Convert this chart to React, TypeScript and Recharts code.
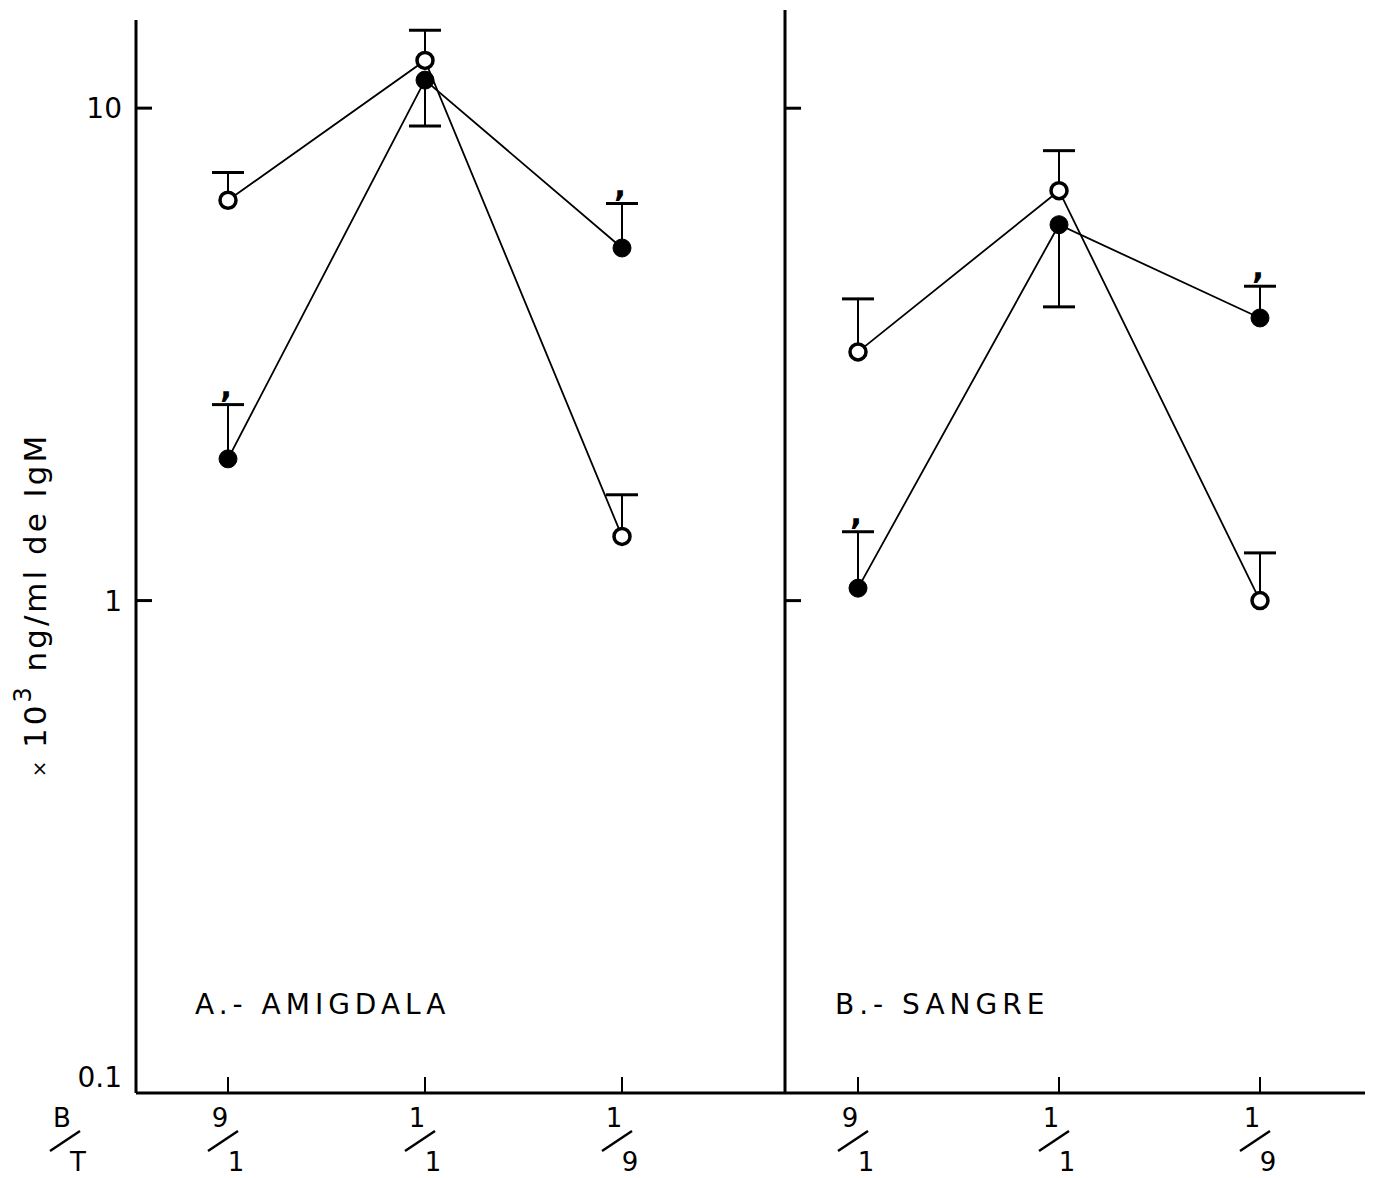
import React from 'react';
import { LineChart, Line, XAxis, YAxis, ErrorBar, Customized } from 'recharts';

const ratios = ['9/1', '1/1', '1/9'];
const yTicks = [0.1, 1, 10];

// A.- Amigdala
const amigdalaOpen = [6.5, 12.5, 1.35];
const amigdalaOpenCap = [7.4, 14.4, 1.64];
const amigdalaFilled = [1.94, 11.4, 5.2];
const amigdalaFilledCap = [2.5, 9.2, 6.4];
const amigdalaMarks = [true, false, true];

// B.- Sangre
const sangreOpen = [3.2, 6.8, 1.0];
const sangreOpenCap = [4.1, 8.2, 1.25];
const sangreFilled = [1.06, 5.8, 3.75];
const sangreFilledCap = [1.38, 3.95, 4.35];
const sangreMarks = [true, false, true];

const FONT = '"DejaVu Sans", "Liberation Sans", sans-serif';

const errOf = (v: number, cap: number) => (cap > v ? [0, cap - v] : [v - cap, 0]);

function buildRows(open: number[], openCap: number[], filled: number[], filledCap: number[], marks: boolean[]) {
  return ratios.map((r, i) => ({
    ratio: r,
    open: open[i],
    openCap: openCap[i],
    openErr: errOf(open[i], openCap[i]),
    filled: filled[i],
    filledCap: filledCap[i],
    filledErr: errOf(filled[i], filledCap[i]),
    mark: marks[i],
  }));
}

const amigdalaRows = buildRows(amigdalaOpen, amigdalaOpenCap, amigdalaFilled, amigdalaFilledCap, amigdalaMarks);
const sangreRows = buildRows(sangreOpen, sangreOpenCap, sangreFilled, sangreFilledCap, sangreMarks);

function capDot(withMark: boolean) {
  return (p: any) => {
    const { cx, cy, payload, index } = p;
    if (cx == null || cy == null) return <g key={index} />;
    return (
      <g key={index}>
        <line x1={cx - 16} y1={cy} x2={cx + 16} y2={cy} stroke="#000" strokeWidth={3} />
        {withMark && payload.mark && (
          <text x={cx - 2} y={cy - 8} fontSize={32} fontWeight="bold" fontFamily={FONT} textAnchor="middle">
            ,
          </text>
        )}
      </g>
    );
  };
}

function Fraction({ x, y, num, den }: { x: number; y: number; num: string; den: string }) {
  return (
    <g fontFamily={FONT} fontSize={26} fill="#000">
      <text x={x - 8} y={y + 34} textAnchor="middle">{num}</text>
      <line x1={x - 20} y1={y + 58} x2={x + 10} y2={y + 38} stroke="#000" strokeWidth={2.5} />
      <text x={x + 8} y={y + 78} textAnchor="middle">{den}</text>
    </g>
  );
}

function RatioTick(p: any) {
  const { x, y, payload } = p;
  const [num, den] = String(payload.value).split('/');
  return (
    <g>
      <line x1={x} y1={y - 16} x2={x} y2={y} stroke="#000" strokeWidth={2} />
      <Fraction x={x} y={y} num={num} den={den} />
    </g>
  );
}

function logTick(showLabel: boolean) {
  return (p: any) => {
    const { x, y, payload } = p;
    const ax = x + 12;
    const v = payload.value;
    return (
      <g>
        {v !== 0.1 && <line x1={ax} y1={y} x2={ax + 16} y2={y} stroke="#000" strokeWidth={3} />}
        {showLabel && (
          <text x={x - 2} y={y} dy={v === 0.1 ? -6 : 10} textAnchor="end" fontSize={28} fontFamily={FONT} fill="#000">
            {String(v)}
          </text>
        )}
      </g>
    );
  };
}

function Panel({
  rows,
  left,
  width,
  margin,
  yMax,
  padding,
  showLabels,
  title,
  titleX,
  extra,
}: any) {
  return (
    <div style={{ position: 'absolute', left, top: 0 }}>
      <LineChart width={width} height={1178} data={rows} margin={margin}>
        <XAxis
          dataKey="ratio"
          padding={padding}
          tickLine={false}
          tickSize={0}
          tickMargin={0}
          interval={0}
          height={70}
          axisLine={{ stroke: '#000', strokeWidth: 3 }}
          tick={<RatioTick />}
        />
        <YAxis
          type="number"
          scale="log"
          domain={[0.1, yMax]}
          ticks={yTicks}
          allowDataOverflow
          width={60}
          tickLine={false}
          tickSize={0}
          tickMargin={12}
          axisLine={{ stroke: '#000', strokeWidth: 3 }}
          tick={logTick(showLabels)}
        />
        <Line dataKey="openCap" stroke="none" dot={capDot(false)} activeDot={false} isAnimationActive={false} />
        <Line dataKey="filledCap" stroke="none" dot={capDot(true)} activeDot={false} isAnimationActive={false} />
        <Line
          dataKey="open"
          stroke="#000"
          strokeWidth={1.8}
          dot={{ r: 8, fill: '#fff', stroke: '#000', strokeWidth: 3.5 }}
          activeDot={false}
          isAnimationActive={false}
        >
          <ErrorBar dataKey="openErr" direction="y" width={0} stroke="#000" strokeWidth={2} />
        </Line>
        <Line
          dataKey="filled"
          stroke="#000"
          strokeWidth={1.8}
          dot={{ r: 9, fill: '#000', stroke: '#000', strokeWidth: 1 }}
          activeDot={false}
          isAnimationActive={false}
        >
          <ErrorBar dataKey="filledErr" direction="y" width={0} stroke="#000" strokeWidth={2} />
        </Line>
        <Customized
          component={() => (
            <g>
              <text x={titleX} y={1014} fontSize={28} fontFamily={FONT} letterSpacing={5} fill="#000">
                {title}
              </text>
              {extra}
            </g>
          )}
        />
      </LineChart>
    </div>
  );
}

export default function App() {
  const yLabel = (
    <g>
      <text
        transform="translate(46,605) rotate(-90)"
        textAnchor="middle"
        fontSize={31}
        fontFamily={FONT}
        fill="#000"
        letterSpacing={3}
      >
        <tspan fontSize={20}>× </tspan>
        <tspan>10</tspan>
        <tspan dy={-15} fontSize={24}>3</tspan>
        <tspan dy={15}> ng/ml</tspan>
        <tspan>{'    de  IgM'}</tspan>
      </text>
      <Fraction x={70} y={1093} num="B" den="T" />
    </g>
  );
  return (
    <div style={{ position: 'absolute', left: 0, top: 0, width: 1379, height: 1178, background: '#fff' }}>
      <Panel
        rows={amigdalaRows}
        left={0}
        width={785}
        margin={{ top: 20, right: 0, left: 76, bottom: 15 }}
        yMax={15.1}
        padding={{ left: 92, right: 163 }}
        showLabels
        title="A.- AMIGDALA"
        titleX={195}
        extra={yLabel}
      />
      <Panel
        rows={sangreRows}
        left={725}
        width={654}
        margin={{ top: 10, right: 14, left: 0, bottom: 15 }}
        yMax={15.83}
        padding={{ left: 73, right: 105 }}
        showLabels={false}
        title="B.- SANGRE"
        titleX={110}
        extra={null}
      />
    </div>
  );
}
